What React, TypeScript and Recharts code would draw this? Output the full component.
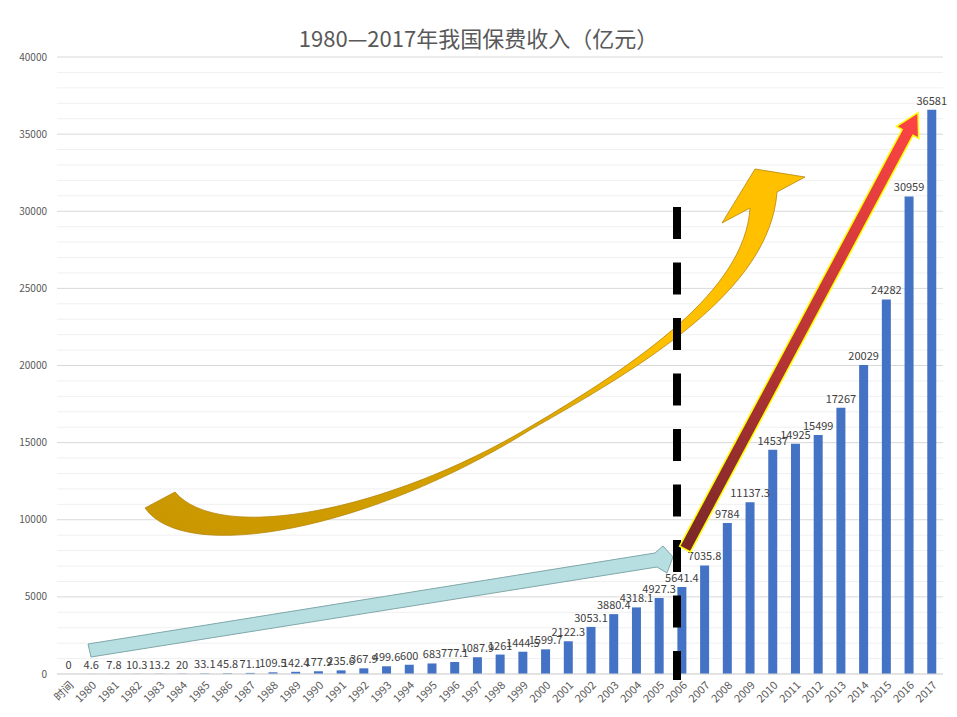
import { BarChart, Bar, XAxis, YAxis, CartesianGrid, LabelList } from 'recharts';

// 类目（第一个是表头“时间”）
const years = [
  '时间', '1980', '1981', '1982', '1983', '1984', '1985', '1986', '1987', '1988', '1989',
  '1990', '1991', '1992', '1993', '1994', '1995', '1996', '1997', '1998', '1999',
  '2000', '2001', '2002', '2003', '2004', '2005', '2006', '2007', '2008', '2009',
  '2010', '2011', '2012', '2013', '2014', '2015', '2016', '2017',
];

// 保费收入（亿元）
const income = [
  0, 4.6, 7.8, 10.3, 13.2, 20, 33.1, 45.8, 71.1, 109.5, 142.4,
  177.9, 235.6, 367.9, 499.6, 600, 683, 777.1, 1087.9, 1261.0, 1444.5,
  1599.7, 2122.3, 3053.1, 3880.4, 4318.1, 4927.3, 5641.4, 7035.8, 9784, 11137.3,
  14537, 14925, 15499, 17267, 20029, 24282, 30959, 36581,
];

const yMax = 40000;
const yTicks = [0, 5000, 10000, 15000, 20000, 25000, 30000, 35000, 40000];
const minorTicks = [
  1000, 2000, 3000, 4000, 6000, 7000, 8000, 9000, 11000, 12000, 13000, 14000,
  16000, 17000, 18000, 19000, 21000, 22000, 23000, 24000, 26000, 27000, 28000, 29000,
  31000, 32000, 33000, 34000, 36000, 37000, 38000, 39000,
];

const data = years.map((y, i) => ({ year: y, value: income[i] }));

const FONT = '"Noto Sans CJK SC", "Noto Sans", sans-serif';

const XTick = (props: any) => {
  const { x, y, payload } = props;
  return (
    <g transform={`translate(${x + 6},${y + 4})`}>
      <text textAnchor="end" transform="rotate(-45)" fontSize={11} fill="#595959" fontFamily={FONT}>
        {payload.value}
      </text>
    </g>
  );
};

// 次网格线（每 1000 一条）
const minorGrid = ({ yAxis, offset }: any) => {
  const sc = yAxis && yAxis.scale;
  if (typeof sc === 'function') return minorTicks.map((v) => sc(v));
  if (sc && typeof sc.map === 'function') return minorTicks.map((v) => sc.map(v));
  return minorTicks.map((v) => offset.top + offset.height * (1 - v / yMax));
};

// 图上手绘的箭头和虚线
function Overlay() {
  return (
    <svg width={957} height={717} style={{ position: 'absolute', left: 0, top: 0, pointerEvents: 'none' }}>
      <defs>
        <linearGradient id="goldGrad" x1="0" y1="1" x2="1" y2="0">
          <stop offset="0%" stopColor="#C89600" />
          <stop offset="45%" stopColor="#D9A500" />
          <stop offset="65%" stopColor="#FFC000" />
          <stop offset="100%" stopColor="#FFC000" />
        </linearGradient>
        <linearGradient id="redGrad" gradientUnits="userSpaceOnUse" x1="685" y1="549" x2="918" y2="113">
          <stop offset="0%" stopColor="#7A2828" />
          <stop offset="100%" stopColor="#FF4444" />
        </linearGradient>
      </defs>

      {/* 黄色弯箭头 */}
      <path
        d="M145,508 C185,565 370,530 530,430 C645,365 770,290 777,192 L805,177 L755,169 L722,223 L750,208 C745,290 640,362 528,428 C390,510 220,545 175,492 Z"
        fill="url(#goldGrad)"
        stroke="#B8860B"
        strokeWidth={0.8}
      />

      {/* 浅蓝箭头 */}
      <path
        d="M88,644 L655,553 L663,546 L673,557 L667,573 L657,567 L91,657 Z"
        fill="#B7DEE1"
        stroke="#7FA7A9"
        strokeWidth={1}
      />

      {/* 黑色虚线 */}
      <line x1={677} y1={207} x2={677} y2={680} stroke="#000" strokeWidth={8} strokeDasharray="32 23.5" />

      {/* 红色直箭头 */}
      <path
        d="M679.6,546.1 L902.2,129.5 L896.5,126.4 L918,112.5 L918.7,138.4 L913,135.3 L690.4,551.9 Z"
        fill="url(#redGrad)"
        stroke="#FFFF00"
        strokeWidth={1.5}
      />
    </svg>
  );
}

export default function App() {
  return (
    <div style={{ position: 'absolute', left: 0, top: 0, width: 957, height: 717, background: '#fff', fontFamily: FONT }}>
      <div
        style={{
          position: 'absolute',
          left: 0,
          width: 957,
          top: 21,
          textAlign: 'center',
          fontSize: 22,
          color: '#595959',
          fontFamily: FONT,
        }}
      >
        1980—2017年我国保费收入（亿元）
      </div>
      <BarChart
        width={957}
        height={717}
        data={data}
        margin={{ top: 57, right: 14, left: 0, bottom: 0 }}
        barCategoryGap={0}
      >
        <CartesianGrid vertical={false} stroke="#F0F0F0" horizontalCoordinatesGenerator={minorGrid} />
        <CartesianGrid vertical={false} stroke="#D9D9D9" />
        <XAxis
          dataKey="year"
          interval={0}
          tick={<XTick />}
          tickLine={false}
          axisLine={{ stroke: '#D9D9D9' }}
          height={43}
        />
        <YAxis
          width={57}
          domain={[0, yMax]}
          ticks={yTicks}
          tickLine={false}
          axisLine={false}
          tickSize={6}
          tickMargin={4}
          tick={{ fontSize: 10, fill: '#595959', fontFamily: FONT }}
        />
        <Bar
          dataKey="value"
          fill="#4472C4"
          barSize={9}
          minPointSize={(v: number) => (v === 0 ? 0.01 : 0)}
          isAnimationActive={false}
        >
          <LabelList dataKey="value" position="top" offset={5} fontSize={11} fill="#404040" fontFamily={FONT} />
        </Bar>
      </BarChart>
      <Overlay />
    </div>
  );
}
